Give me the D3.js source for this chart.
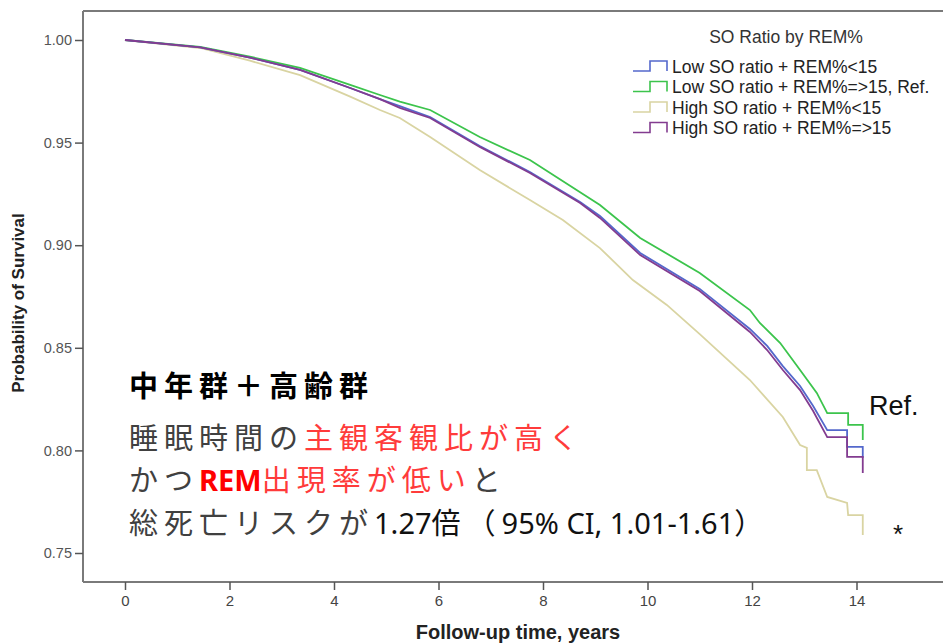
<!DOCTYPE html>
<html>
<head>
<meta charset="utf-8">
<script src="https://cdn.jsdelivr.net/npm/d3@7/dist/d3.min.js"></script>
<style>
  html, body { margin: 0; padding: 0; background: #fff; }
  svg { display: block; }
</style>
</head>
<body>
<svg id="chart" width="943" height="643"></svg>
<script>
// ---------- data ----------
const seriesNames = [
  "Low SO ratio + REM%<15",
  "Low SO ratio + REM%=>15, Ref.",
  "High SO ratio + REM%<15",
  "High SO ratio + REM%=>15"
];
const seriesColors = ["#5468cc", "#3cc44c", "#d9d4a2", "#833c90"];

// Low SO ratio + REM%<15 (blue)
const blueTime = [0, 1.44, 2.39, 3.35, 4.31, 4.88, 5.26, 5.84, 6.79, 7.75, 8.71, 9.09, 9.86, 11.00, 11.96, 12.29, 12.59, 12.92, 13.17, 13.44, 13.82, 13.82, 14.12, 14.12];
const blueSurv = [1.000, 0.9964, 0.9914, 0.9854, 0.9766, 0.9712, 0.9678, 0.9625, 0.9483, 0.9357, 0.9211, 0.9142, 0.8962, 0.8787, 0.8592, 0.8509, 0.8411, 0.8314, 0.8216, 0.8099, 0.8099, 0.8017, 0.8017, 0.7963];

// Low SO ratio + REM%=>15, Ref. (green)
const greenTime = [0, 1.44, 2.39, 3.35, 4.31, 4.88, 5.26, 5.84, 6.79, 7.75, 9.09, 9.86, 11.00, 11.96, 12.15, 12.54, 12.92, 13.24, 13.44, 13.84, 13.84, 14.12, 14.12];
const greenSurv = [1.000, 0.9967, 0.9919, 0.9864, 0.9781, 0.9732, 0.9700, 0.9659, 0.9527, 0.9415, 0.9196, 0.9035, 0.8865, 0.8684, 0.8621, 0.8523, 0.8392, 0.8280, 0.8182, 0.8182, 0.8124, 0.8124, 0.8051];

// High SO ratio + REM%<15 (beige)
const beigeTime = [0, 1.44, 2.39, 3.35, 4.31, 4.88, 5.26, 5.84, 6.79, 7.75, 8.38, 9.09, 9.72, 10.37, 11.00, 11.96, 12.59, 12.92, 13.05, 13.05, 13.24, 13.44, 13.82, 13.84, 14.12, 14.12];
const beigeSurv = [1.000, 0.9961, 0.9899, 0.9829, 0.9724, 0.9659, 0.9620, 0.9527, 0.9366, 0.9220, 0.9123, 0.8986, 0.8830, 0.8709, 0.8567, 0.8343, 0.8163, 0.8026, 0.8012, 0.7904, 0.7904, 0.7773, 0.7744, 0.7685, 0.7685, 0.7588];

// High SO ratio + REM%=>15 (purple)
const purpleTime = [0, 1.44, 2.39, 3.35, 4.31, 4.88, 5.26, 5.84, 6.79, 7.75, 8.71, 9.09, 9.86, 11.00, 11.96, 12.29, 12.59, 12.92, 13.17, 13.44, 13.82, 13.82, 14.12, 14.12];
const purpleSurv = [1.000, 0.9964, 0.9914, 0.9854, 0.9766, 0.9712, 0.9669, 0.9620, 0.9479, 0.9352, 0.9206, 0.9133, 0.8952, 0.8777, 0.8577, 0.8489, 0.8392, 0.8294, 0.8192, 0.8065, 0.8065, 0.7968, 0.7968, 0.7890];

const xTicks = [0, 2, 4, 6, 8, 10, 12, 14];
const yTicks = [0.75, 0.80, 0.85, 0.90, 0.95, 1.00];

const legendTitle = "SO Ratio by REM%";
const xTitle = "Follow-up time, years";
const yTitle = "Probability of Survival";

// ---------- drawing ----------
const svg = d3.select("#chart");
svg.append("rect").attr("width", 943).attr("height", 643).attr("fill", "#fff");

const x = d3.scaleLinear().domain([0, 14]).range([125, 856.5]);
const y = d3.scaleLinear().domain([0.75, 1.00]).range([553, 40]);

const frameLeft = 83, frameTop = 11, frameBottom = 582, frameRight = 943;
const axisColor = "#7a7a7a";

// frame lines
svg.append("line").attr("x1", frameLeft).attr("x2", frameRight).attr("y1", frameTop).attr("y2", frameTop)
  .attr("stroke", axisColor).attr("stroke-width", 2);
svg.append("line").attr("x1", frameLeft).attr("x2", frameLeft).attr("y1", frameTop).attr("y2", frameBottom)
  .attr("stroke", axisColor).attr("stroke-width", 2);
svg.append("line").attr("x1", frameLeft).attr("x2", frameRight).attr("y1", frameBottom).attr("y2", frameBottom)
  .attr("stroke", axisColor).attr("stroke-width", 2);

// y axis
const yAxis = svg.append("g").attr("transform", `translate(${frameLeft},0)`)
  .call(d3.axisLeft(y).tickValues(yTicks).tickFormat(d3.format(".2f")).tickSize(8).tickPadding(3));
yAxis.select(".domain").remove();
yAxis.selectAll(".tick line").attr("stroke", "#555").attr("stroke-width", 1.5);
yAxis.selectAll(".tick text").attr("fill", "#555")
  .style("font-family", "'Liberation Sans', Arial, sans-serif").style("font-size", "14.5px");

// x axis
const xAxis = svg.append("g").attr("transform", `translate(0,${frameBottom})`)
  .call(d3.axisBottom(x).tickValues(xTicks).tickFormat(d3.format("d")).tickSize(8).tickPadding(5));
xAxis.select(".domain").remove();
xAxis.selectAll(".tick line").attr("stroke", "#555").attr("stroke-width", 1.5);
xAxis.selectAll(".tick text").attr("fill", "#444")
  .style("font-family", "'Liberation Sans Narrow', 'Liberation Sans', Arial, sans-serif").style("font-size", "15px");

// axis titles
svg.append("text").attr("x", 518).attr("y", 639).attr("text-anchor", "middle")
  .style("font-family", "'Liberation Sans Narrow', 'Liberation Sans', Arial, sans-serif")
  .style("font-size", "20px").style("font-weight", "bold").attr("fill", "#222").text(xTitle);
svg.append("text").attr("transform", "translate(24,303) rotate(-90)").attr("text-anchor", "middle")
  .style("font-family", "'Liberation Sans', Arial, sans-serif")
  .style("font-size", "17px").style("font-weight", "bold").attr("fill", "#222").text(yTitle);

// curves
const series = [
  { t: blueTime, s: blueSurv },
  { t: greenTime, s: greenSurv },
  { t: beigeTime, s: beigeSurv },
  { t: purpleTime, s: purpleSurv }
];
const line = d3.line().x(d => x(d[0])).y(d => y(d[1]));
[2, 1, 0, 3].forEach(i => {
  const pts = series[i].t.map((tt, k) => [tt, series[i].s[k]]);
  svg.append("path").datum(pts).attr("d", line)
    .attr("fill", "none").attr("stroke", seriesColors[i]).attr("stroke-width", 1.8)
    .attr("stroke-linejoin", "miter");
});

// legend
const lg = svg.append("g");
lg.append("text").attr("x", 786).attr("y", 43).attr("text-anchor", "middle")
  .style("font-family", "'Liberation Sans', Arial, sans-serif").style("font-size", "17.5px")
  .attr("fill", "#333").text(legendTitle);
seriesNames.forEach((name, i) => {
  const cy = 66 + i * 20.5;
  lg.append("path")
    .attr("d", `M633,${cy + 5} H650 V${cy - 5} H667 V${cy + 5}`)
    .attr("fill", "none").attr("stroke", seriesColors[i]).attr("stroke-width", 1.6);
  lg.append("text").attr("x", 672).attr("y", cy + 6.5)
    .style("font-family", "'Liberation Sans', Arial, sans-serif").style("font-size", "17.5px")
    .attr("fill", "#222").text(name);
});

// annotation text
const jp = "'Noto Sans CJK JP', 'Noto Sans', sans-serif";
const lat = "'Noto Sans', 'Liberation Sans', sans-serif";
const gray = "#404040", red = "#ff3b3b";
const ann = svg.append("g").style("font-family", jp).style("font-size", "29px");
ann.append("text").attr("x", 129).attr("y", 397).attr("fill", "#000").style("font-weight", "bold")
  .style("letter-spacing", "6px").text("中年群＋高齢群");
const l2 = ann.append("text").attr("x", 129).attr("y", 449).style("letter-spacing", "6px");
l2.append("tspan").attr("fill", gray).text("睡眠時間の");
l2.append("tspan").attr("fill", red).text("主観客観比が高く");
const l3 = ann.append("text").attr("x", 129).attr("y", 491);
l3.append("tspan").attr("fill", gray).style("letter-spacing", "6px").text("かつ");
l3.append("tspan").attr("fill", "#ff0000").style("font-family", lat).style("font-weight", "bold")
  .style("letter-spacing", "0px").text("REM");
l3.append("tspan").attr("fill", red).style("letter-spacing", "6px").text("出現率が低い");
l3.append("tspan").attr("fill", gray).style("letter-spacing", "6px").text("と");
const l4 = ann.append("text").attr("x", 129).attr("y", 534);
l4.append("tspan").attr("fill", gray).style("letter-spacing", "6px").text("総死亡リスクが");
l4.append("tspan").attr("fill", "#111").style("font-family", lat).style("letter-spacing", "0px").text("1.27");
l4.append("tspan").attr("fill", "#111").style("letter-spacing", "6px").text("倍（");
l4.append("tspan").attr("fill", "#111").style("font-family", lat).style("letter-spacing", "0px").text("95% CI, 1.01-1.61");
l4.append("tspan").attr("fill", "#111").text("）");

// Ref. and asterisk
svg.append("text").attr("x", 869).attr("y", 415)
  .style("font-family", "'Liberation Sans', Arial, sans-serif").style("font-size", "27px")
  .attr("fill", "#111").text("Ref.");
svg.append("text").attr("x", 893).attr("y", 543)
  .style("font-family", "'Liberation Sans', Arial, sans-serif").style("font-size", "26px")
  .attr("fill", "#111").text("*");
</script>
</body>
</html>
